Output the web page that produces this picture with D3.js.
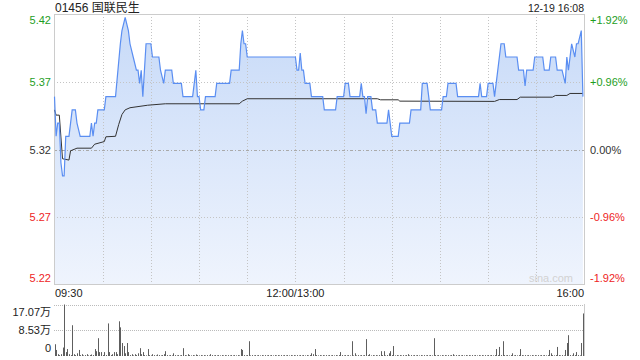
<!DOCTYPE html>
<meta charset="utf-8">
<script src="https://d3js.org/d3.v7.min.js"></script>
<style>
  body { margin: 0; background: #fff; }
  svg text { font-family: "Liberation Sans", Arial, "Noto Sans CJK SC", sans-serif; }
</style>
<div id="chart"></div>
<script>

var title = "01456 国联民生";
var stamp = "12-19 16:08";
var prevClose = 5.32;
var pctTicks = [1.92, 0.96, 0, -0.96, -1.92];
var timeLabels = ["09:30", "12:00/13:00", "16:00"];
var timeMinutes = [0, 150, 330];
var volTicks = [170700, 85300, 0];
var volLabels = ["17.07万", "8.53万", "0"];

// price line vertices (minute index, price)
var priceMin = [0, 1, 2, 3, 4, 5, 6, 7, 9, 10, 11, 13, 14, 16, 22, 23, 24, 25, 26, 27,
  31, 32, 38, 41, 42, 44, 46, 47, 49, 51, 52, 53, 54, 55, 57, 60, 61, 65, 66, 68,
  69, 73, 74, 79, 80, 86, 88, 89, 90, 91, 93, 94, 100, 101, 109, 110, 115, 116, 117, 118,
  119, 120, 150, 151, 152, 153, 154, 155, 156, 159, 160, 167, 168, 175, 176, 180, 181, 183, 184, 190,
  191, 192, 193, 194, 195, 197, 198, 200, 201, 207, 208, 209, 210, 214, 215, 221, 222, 228, 229, 232,
  233, 234, 241, 242, 244, 245, 250, 251, 264, 265, 266, 269, 270, 273, 274, 278, 280, 281, 288, 289,
  292, 293, 294, 298, 299, 304, 305, 308, 309, 312, 313, 316, 318, 319, 320, 322, 324, 325, 326, 328, 329];
var priceVal = [5.36, 5.33, 5.34, 5.34, 5.31, 5.30, 5.30, 5.33, 5.33, 5.34, 5.35, 5.35, 5.34, 5.33, 5.33, 5.34, 5.33, 5.34, 5.34, 5.35,
  5.35, 5.36, 5.36, 5.40, 5.41, 5.42, 5.41, 5.40, 5.39, 5.38, 5.38, 5.37, 5.38, 5.36, 5.40, 5.40, 5.39, 5.39, 5.38, 5.37,
  5.38, 5.38, 5.37, 5.37, 5.36, 5.36, 5.38, 5.36, 5.36, 5.35, 5.35, 5.36, 5.36, 5.37, 5.37, 5.38, 5.38, 5.40, 5.41, 5.40,
  5.40, 5.39, 5.39, 5.38, 5.38, 5.393, 5.38, 5.38, 5.37, 5.37, 5.36, 5.36, 5.35, 5.35, 5.36, 5.36, 5.37, 5.37, 5.36, 5.36,
  5.37, 5.36, 5.36, 5.347, 5.36, 5.36, 5.35, 5.35, 5.34, 5.34, 5.35, 5.34, 5.33, 5.33, 5.34, 5.34, 5.35, 5.35, 5.37, 5.37,
  5.36, 5.35, 5.35, 5.36, 5.36, 5.37, 5.37, 5.36, 5.36, 5.37, 5.36, 5.36, 5.37, 5.37, 5.36, 5.40, 5.40, 5.39, 5.39, 5.38,
  5.38, 5.368, 5.38, 5.38, 5.39, 5.39, 5.38, 5.38, 5.39, 5.39, 5.38, 5.38, 5.37, 5.39, 5.38, 5.40, 5.39, 5.40, 5.40, 5.41, 5.36];

// average price line vertices
var avgMin = [0, 1, 3, 5, 9, 10, 14, 23, 25, 31, 32, 38, 40, 42, 44, 47, 58, 69, 115, 117,
  120, 201, 203, 214, 215, 274, 277, 288, 290, 310, 312, 319, 321, 329];
var avgVal = [5.350, 5.346, 5.346, 5.313, 5.312, 5.319, 5.321, 5.321, 5.324, 5.326, 5.3296, 5.330, 5.339, 5.3465, 5.350, 5.3516, 5.3535, 5.3546, 5.3546, 5.3566,
  5.3584, 5.3584, 5.3576, 5.3576, 5.3566, 5.3564, 5.3578, 5.3578, 5.3596, 5.3596, 5.3609, 5.3609, 5.3624, 5.3624];

// volume per minute, 0..329
var volumes = [
  39000, 20000, 6000, 3000, 6000, 28000, 170700, 13000, 23000, 6000,
  3000, 102000, 6000, 3000, 9000, 20000, 3000, 6000, 2000, 3000,
  6000, 2000, 3000, 5000, 3000, 23000, 16000, 59000, 13000, 13000,
  3000, 13000, 3000, 108000, 13000, 3000, 6000, 13000, 13000, 6000,
  115000, 95000, 43000, 33000, 9000, 43000, 13000, 3000, 6000, 2000,
  6000, 3000, 9000, 26000, 6000, 13000, 3000, 2000, 23000, 3000,
  2000, 6000, 3000, 2000, 5000, 3000, 2000, 3000, 6000, 16000,
  3000, 2000, 3000, 2000, 9000, 3000, 2000, 3000, 2000, 3000,
  26000, 3000, 2000, 6000, 3000, 2000, 3000, 2000, 5000, 3000,
  2000, 3000, 2000, 3000, 2000, 3000, 2000, 6000, 3000, 2000,
  3000, 2000, 3000, 2000, 3000, 2000, 3000, 2000, 3000, 2000,
  3000, 2000, 3000, 2000, 3000, 2000, 23000, 20000, 3000, 2000,
  3000, 49000, 2000, 3000, 2000, 3000, 2000, 3000, 2000, 3000,
  2000, 3000, 2000, 3000, 2000, 3000, 2000, 3000, 2000, 3000,
  2000, 3000, 2000, 3000, 2000, 3000, 2000, 3000, 2000, 3000,
  2000, 3000, 2000, 3000, 2000, 3000, 2000, 3000, 2000, 3000,
  9000, 6000, 23000, 3000, 2000, 3000, 2000, 3000, 2000, 3000,
  2000, 3000, 2000, 3000, 2000, 3000, 2000, 3000, 13000, 3000,
  2000, 3000, 2000, 3000, 2000, 49000, 2000, 9000, 2000, 3000,
  2000, 3000, 2000, 3000, 56000, 3000, 6000, 2000, 3000, 2000,
  3000, 2000, 3000, 16000, 3000, 16000, 2000, 3000, 9000, 16000,
  3000, 33000, 2000, 3000, 2000, 3000, 2000, 3000, 2000, 3000,
  6000, 2000, 3000, 2000, 3000, 2000, 3000, 2000, 3000, 2000,
  3000, 2000, 3000, 2000, 3000, 2000, 59000, 3000, 2000, 3000,
  2000, 3000, 2000, 3000, 2000, 3000, 2000, 3000, 6000, 2000,
  3000, 2000, 3000, 2000, 3000, 2000, 3000, 2000, 3000, 2000,
  3000, 2000, 3000, 2000, 3000, 2000, 3000, 2000, 3000, 2000,
  3000, 2000, 3000, 2000, 3000, 23000, 3000, 30000, 3000, 49000,
  3000, 2000, 3000, 2000, 3000, 9000, 2000, 3000, 2000, 3000,
  23000, 3000, 2000, 3000, 2000, 3000, 2000, 3000, 2000, 3000,
  2000, 3000, 2000, 3000, 2000, 3000, 2000, 3000, 20000, 9000,
  3000, 2000, 3000, 30000, 3000, 2000, 3000, 2000, 20000, 43000,
  69000, 3000, 2000, 9000, 3000, 13000, 3000, 2000, 43000, 141000
];

var green = "#1e9e1e", red = "#ee2424", grey = "#333";

var svg = d3.select("#chart").append("svg")
  .attr("width", 640)
  .attr("height", 360);

var x = d3.scaleLinear().domain([0, 330]).range([54.5, 584.5]);
var y = d3.scaleLinear()
  .domain([prevClose * (1 - 0.0192), prevClose * (1 + 0.0192)])
  .range([284.5, 14.5]);
var yv = d3.scaleLinear().domain([0, 170700]).range([356, 304.5]);

// gradient for area
var grad = svg.append("defs").append("linearGradient")
  .attr("id", "fillgrad")
  .attr("x1", 0).attr("y1", 0).attr("x2", 0).attr("y2", 1);
grad.append("stop").attr("offset", "0%").attr("stop-color", "#c7daf8");
grad.append("stop").attr("offset", "100%").attr("stop-color", "#eff4fd");

// header
svg.append("text").attr("x", 55).attr("y", 12)
  .style("font-size", "12px").attr("fill", "#222").text(title);
svg.append("text").attr("x", 584).attr("y", 12).attr("text-anchor", "end")
  .style("font-size", "10.5px").attr("fill", "#222").text(stamp);

var pricePts = priceMin.map(function(m, i) { return [m, priceVal[i]]; });
var avgPts = avgMin.map(function(m, i) { return [m, avgVal[i]]; });

// area under price line
svg.append("path")
  .datum(pricePts)
  .attr("fill", "url(#fillgrad)")
  .attr("d", d3.area()
    .x(function(d) { return x(d[0]); })
    .y0(284)
    .y1(function(d) { return y(d[1]); }));

// grid
var halfHours = d3.range(30, 330, 30);
svg.selectAll(".vgrid").data(halfHours).enter().append("line")
  .attr("x1", function(d) { return Math.round(x(d)) + 0.5; })
  .attr("x2", function(d) { return Math.round(x(d)) + 0.5; })
  .attr("y1", 14).attr("y2", 284)
  .attr("stroke", "#c4c4c4").attr("stroke-dasharray", "1,2");

var tickVals = pctTicks.map(function(p) { return prevClose * (1 + p / 100); });
svg.selectAll(".hgrid").data(tickVals.slice(1, 4)).enter().append("line")
  .attr("x1", 54).attr("x2", 584)
  .attr("y1", function(d) { return Math.round(y(d)) + 0.5; })
  .attr("y2", function(d) { return Math.round(y(d)) + 0.5; })
  .attr("stroke", function(d, i) { return i == 1 ? "#aaa" : "#c4c4c4"; })
  .attr("stroke-dasharray", function(d, i) { return i == 1 ? "3,2,1,2" : "1,2"; });

// border
svg.append("rect").attr("x", 54.5).attr("y", 14.5).attr("width", 530).attr("height", 270)
  .attr("fill", "none").attr("stroke", "#ccc");

svg.append("text").attr("x", 573).attr("y", 282).attr("text-anchor", "end")
  .style("font-size", "11px").attr("fill", "#d2d2d2").text("sina.com");

// price and avg lines
svg.append("path").datum(avgPts)
  .attr("fill", "none").attr("stroke", "#333").attr("stroke-width", 1)
  .attr("d", d3.line().x(function(d) { return x(d[0]); }).y(function(d) { return y(d[1]); }));

svg.append("path").datum(pricePts)
  .attr("fill", "none").attr("stroke", "#5a8ef2").attr("stroke-width", 1.2)
  .attr("d", d3.line().x(function(d) { return x(d[0]); }).y(function(d) { return y(d[1]); }));

// price labels left, percent labels right
function tickColor(p) { return p > 0 ? green : (p < 0 ? red : grey); }
function labelY(v) { return Math.min(Math.max(y(v), 20), 278) + 4; }

svg.selectAll(".plabel").data(tickVals).enter().append("text")
  .attr("x", 51).attr("y", function(d) { return labelY(d); })
  .attr("text-anchor", "end").style("font-size", "11px")
  .attr("fill", function(d, i) { return tickColor(pctTicks[i]); })
  .text(function(d) { return d.toFixed(2); });

svg.selectAll(".rlabel").data(pctTicks).enter().append("text")
  .attr("x", 590).attr("y", function(d, i) { return labelY(tickVals[i]); })
  .style("font-size", "11px")
  .attr("fill", function(d) { return tickColor(d); })
  .text(function(d) { return (d > 0 ? "+" : "") + d.toFixed(2) + "%"; });

// time labels
svg.selectAll(".tlabel").data(timeLabels).enter().append("text")
  .attr("x", function(d, i) { return i == 0 ? 55 : (i == 2 ? 584 : x(timeMinutes[i])); })
  .attr("y", 297)
  .attr("text-anchor", function(d, i) { return ["start", "middle", "end"][i]; })
  .style("font-size", "11px").attr("fill", "#222")
  .text(function(d) { return d; });

// volume pane
svg.selectAll(".vgridv").data(volTicks.slice(0, 2)).enter().append("line")
  .attr("x1", 54).attr("x2", 584)
  .attr("y1", function(d) { return Math.round(yv(d)) + 0.5; })
  .attr("y2", function(d) { return Math.round(yv(d)) + 0.5; })
  .attr("stroke", "#bbb").attr("stroke-dasharray", "1,1");

svg.append("line").attr("x1", 584.5).attr("x2", 584.5).attr("y1", 304).attr("y2", 356)
  .attr("stroke", "#ccc");

svg.selectAll(".vbar").data(volumes).enter().append("rect")
  .attr("x", function(d, i) { return Math.round(x(i)); })
  .attr("y", function(d) { return yv(d); })
  .attr("width", 1)
  .attr("height", function(d) { return 356 - yv(d); })
  .attr("fill", "#5e5e5e");

svg.selectAll(".vlabel").data(volLabels).enter().append("text")
  .attr("x", 51)
  .attr("y", function(d, i) { return [316, 334, 352][i]; })
  .attr("text-anchor", "end").style("font-size", "11px").attr("fill", "#222")
  .text(function(d) { return d; });

</script>
